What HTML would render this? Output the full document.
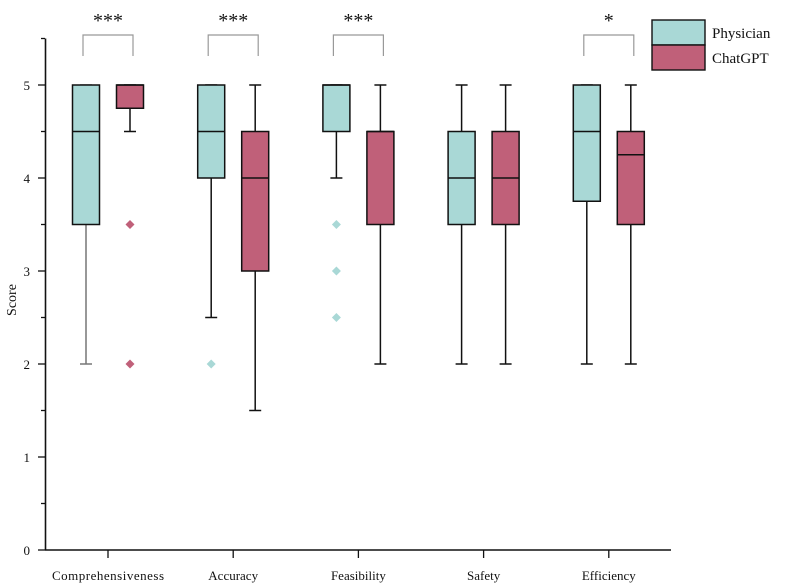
<!DOCTYPE html>
<html><head><meta charset="utf-8"><style>
body{margin:0;background:#fff;}
svg{display:block;font-family:"Liberation Serif",serif;}
</style></head><body>
<svg id="chart" width="798" height="587" viewBox="0 0 798 587"></svg>
<script>
const categories=["Comprehensiveness","Accuracy","Feasibility","Safety","Efficiency"];
// [whiskerLow, q1, median, q3, whiskerHigh]
const physicianStats=[[2,3.5,4.5,5,5],[2.5,4,4.5,5,5],[4,4.5,5,5,5],[2,3.5,4,4.5,5],[2,3.75,4.5,5,5]];
const chatgptStats=[[4.5,4.75,5,5,5],[1.5,3,4,4.5,5],[2,3.5,4.5,4.5,5],[2,3.5,4,4.5,5],[2,3.5,4.25,4.5,5]];
const physicianOutliers=[[],[2],[3.5,3,2.5],[],[]];
const chatgptOutliers=[[3.5,2],[],[],[],[]];
const significance=["***","***","***","","*"];
const yTicks=[0,1,2,3,4,5];
const seriesNames=["Physician","ChatGPT"];
const colors=["#a9d8d6","#c06079"];
const outColors=["#a9d8d6","#c06079"];

const svg=document.getElementById('chart');
const NS="http://www.w3.org/2000/svg";
function el(tag,attrs,parent){const e=document.createElementNS(NS,tag);for(const k in attrs)e.setAttribute(k,attrs[k]);(parent||svg).appendChild(e);return e;}
const y=v=>550-v*93;
const xc=i=>108+i*125.2;
const off=[-22,22],bw=27;

// axes
let a=el('line',{x1:45.5,y1:y(5.5),x2:45.5,y2:550,stroke:'#111','stroke-width':1.6});


a=el('line',{x1:45,y1:550,x2:671,y2:550,stroke:'#111','stroke-width':1.6});


for(let v=0;v<=5.5;v+=0.5){
  const major=Number.isInteger(v);
  el('line',{x1:major?38:41,y1:y(v),x2:45,y2:y(v),stroke:'#111','stroke-width':1.3});
}
yTicks.forEach(v=>{
  const t=el('text',{x:30,y:y(v)+5,'text-anchor':'end','font-size':13,fill:'#111'});
  t.textContent=v;
  
  
});
const yl=el('text',{x:16,y:300,'text-anchor':'middle','font-size':14,fill:'#111',transform:'rotate(-90 16 300)'});
yl.textContent='Score';



categories.forEach((c,i)=>{
  el('line',{x1:xc(i),y1:550,x2:xc(i),y2:558,stroke:'#111','stroke-width':1.3});
  const t=el('text',{x:xc(i),y:580,'text-anchor':'middle','font-size':13,fill:'#111',textLength:c.length>12?112:null});
  if(c.length<=12)t.removeAttribute('textLength');
  t.textContent=c;
  
  
  [physicianStats,chatgptStats].forEach((S,s)=>{
    const [lo,q1,md,q3,hi]=S[i];const cx=xc(i)+off[s];
    const g=el('g',{});
    
    
    const wc=(s===0&&i===0)?'#777':'#111';
    el('line',{x1:cx,y1:y(hi),x2:cx,y2:y(lo),stroke:wc,'stroke-width':1.5},g);
    el('line',{x1:cx-6,y1:y(hi),x2:cx+6,y2:y(hi),stroke:wc,'stroke-width':1.5},g);
    el('line',{x1:cx-6,y1:y(lo),x2:cx+6,y2:y(lo),stroke:wc,'stroke-width':1.5},g);
    el('rect',{x:cx-bw/2,y:y(q3),width:bw,height:Math.max(y(q1)-y(q3),0.5),fill:colors[s],stroke:'#111','stroke-width':1.5},g);
    el('line',{x1:cx-bw/2,y1:y(md),x2:cx+bw/2,y2:y(md),stroke:'#111','stroke-width':1.4},g);
    (s?chatgptOutliers:physicianOutliers)[i].forEach(o=>{
      const p=el('path',{d:`M${cx} ${y(o)-4.5}L${cx+4.5} ${y(o)}L${cx} ${y(o)+4.5}L${cx-4.5} ${y(o)}Z`,fill:outColors[s]},g);
      
      
    });
  });
  if(significance[i]){
    const x1=xc(i)+off[0]-3,x2=xc(i)+off[1]+3;
    const b=el('path',{d:`M${x1} 56V35H${x2}V56`,fill:'none',stroke:'#999','stroke-width':1.2});
    
    
    const st=el('text',{x:(x1+x2)/2,y:27,'text-anchor':'middle','font-size':20,fill:'#111'});
    st.textContent=significance[i];
    
    
  }
});

seriesNames.forEach((n,s)=>{
  const g=el('g',{});
  
  
  el('rect',{x:652,y:20+s*25,width:53,height:25,fill:colors[s],stroke:'#111','stroke-width':1.4},g);
  const t=el('text',{x:712,y:38+s*25,'font-size':15,fill:'#111'},g);
  t.textContent=n;
});
</script>
</body></html>
